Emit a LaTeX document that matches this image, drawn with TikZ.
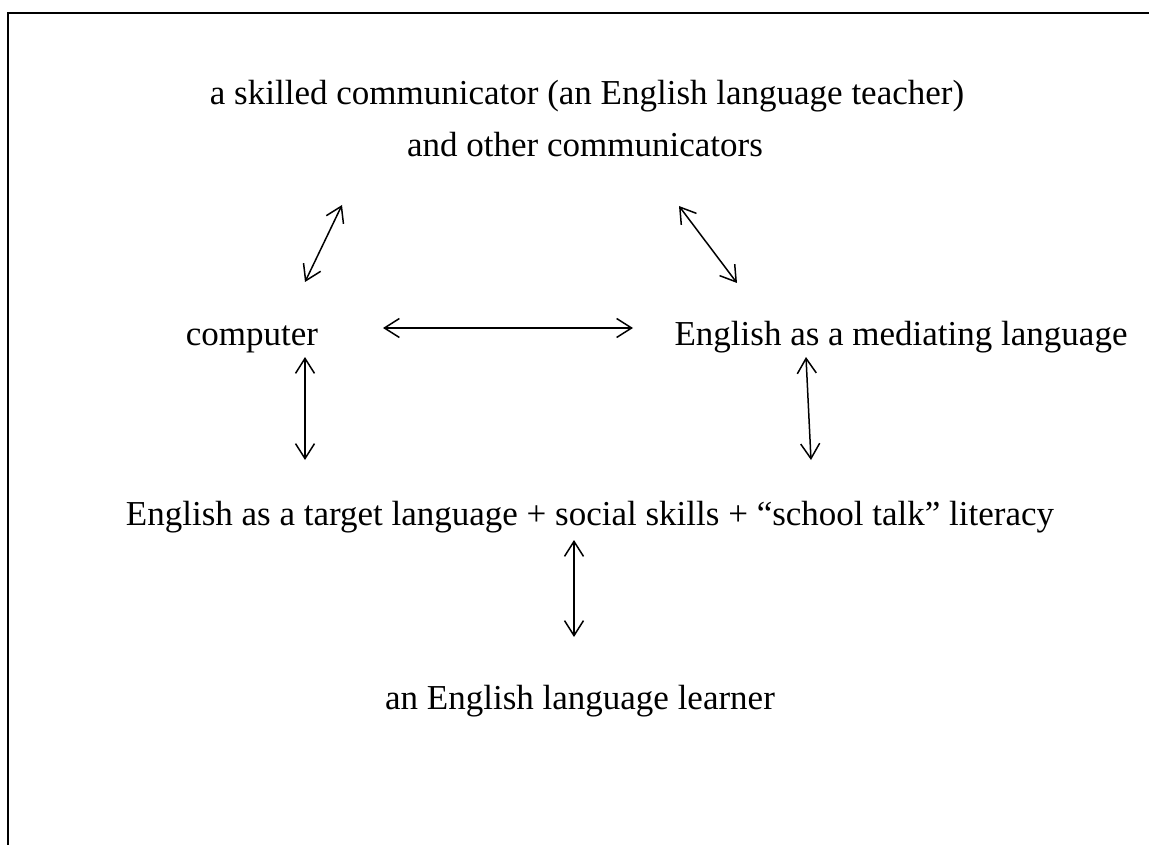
\documentclass[tikz,border=0pt]{standalone}
\usepackage{fontspec}
\setmainfont{Liberation Serif}
\usetikzlibrary{arrows.meta}
\begin{document}
\begin{tikzpicture}[x=1pt,y=-1pt,
  lbl/.style={anchor=base,inner sep=0pt,font=\fontsize{35}{42}\selectfont},
  link/.style={line width=1.5pt,{Straight Barb[length=15pt,width=19pt,line width=1.5pt]}-{Straight Barb[length=15pt,width=19pt,line width=1.5pt]}},
  frame/.style={line width=2pt}]
\useasboundingbox (0,0) rectangle (1149,845);
\fill[white] (0,0) rectangle (1149,845);
\draw[frame] (8,846) -- (8,13) -- (1150,13);

\node[lbl] (top1) at (587,105) {a skilled communicator (an English language teacher)};
\node[lbl] (top2) at (585,157) {and other communicators};
\node[lbl] (comp) at (252,345) {computer};
\node[lbl] (med) at (901,345) {English as a mediating language};
\node[lbl] (target) at (590,525) {English as a target language + social skills + “school talk” literacy};
\node[lbl] (learner) at (580,709) {an English language learner};

\coordinate (a1s) at (342,205); \coordinate (a1e) at (305,282);
\coordinate (a2s) at (679,206); \coordinate (a2e) at (737,283);
\coordinate (a3s) at (383,328); \coordinate (a3e) at (633,328);
\coordinate (a4s) at (305,357); \coordinate (a4e) at (305,460);
\coordinate (a5s) at (806,357); \coordinate (a5e) at (811,460);
\coordinate (a6s) at (574,540); \coordinate (a6e) at (574,637);

\draw[link] (a1s) -- (a1e);
\draw[link] (a2s) -- (a2e);
\draw[link] (a3s) -- (a3e);
\draw[link] (a4s) -- (a4e);
\draw[link] (a5s) -- (a5e);
\draw[link] (a6s) -- (a6e);
\end{tikzpicture}
\end{document}
